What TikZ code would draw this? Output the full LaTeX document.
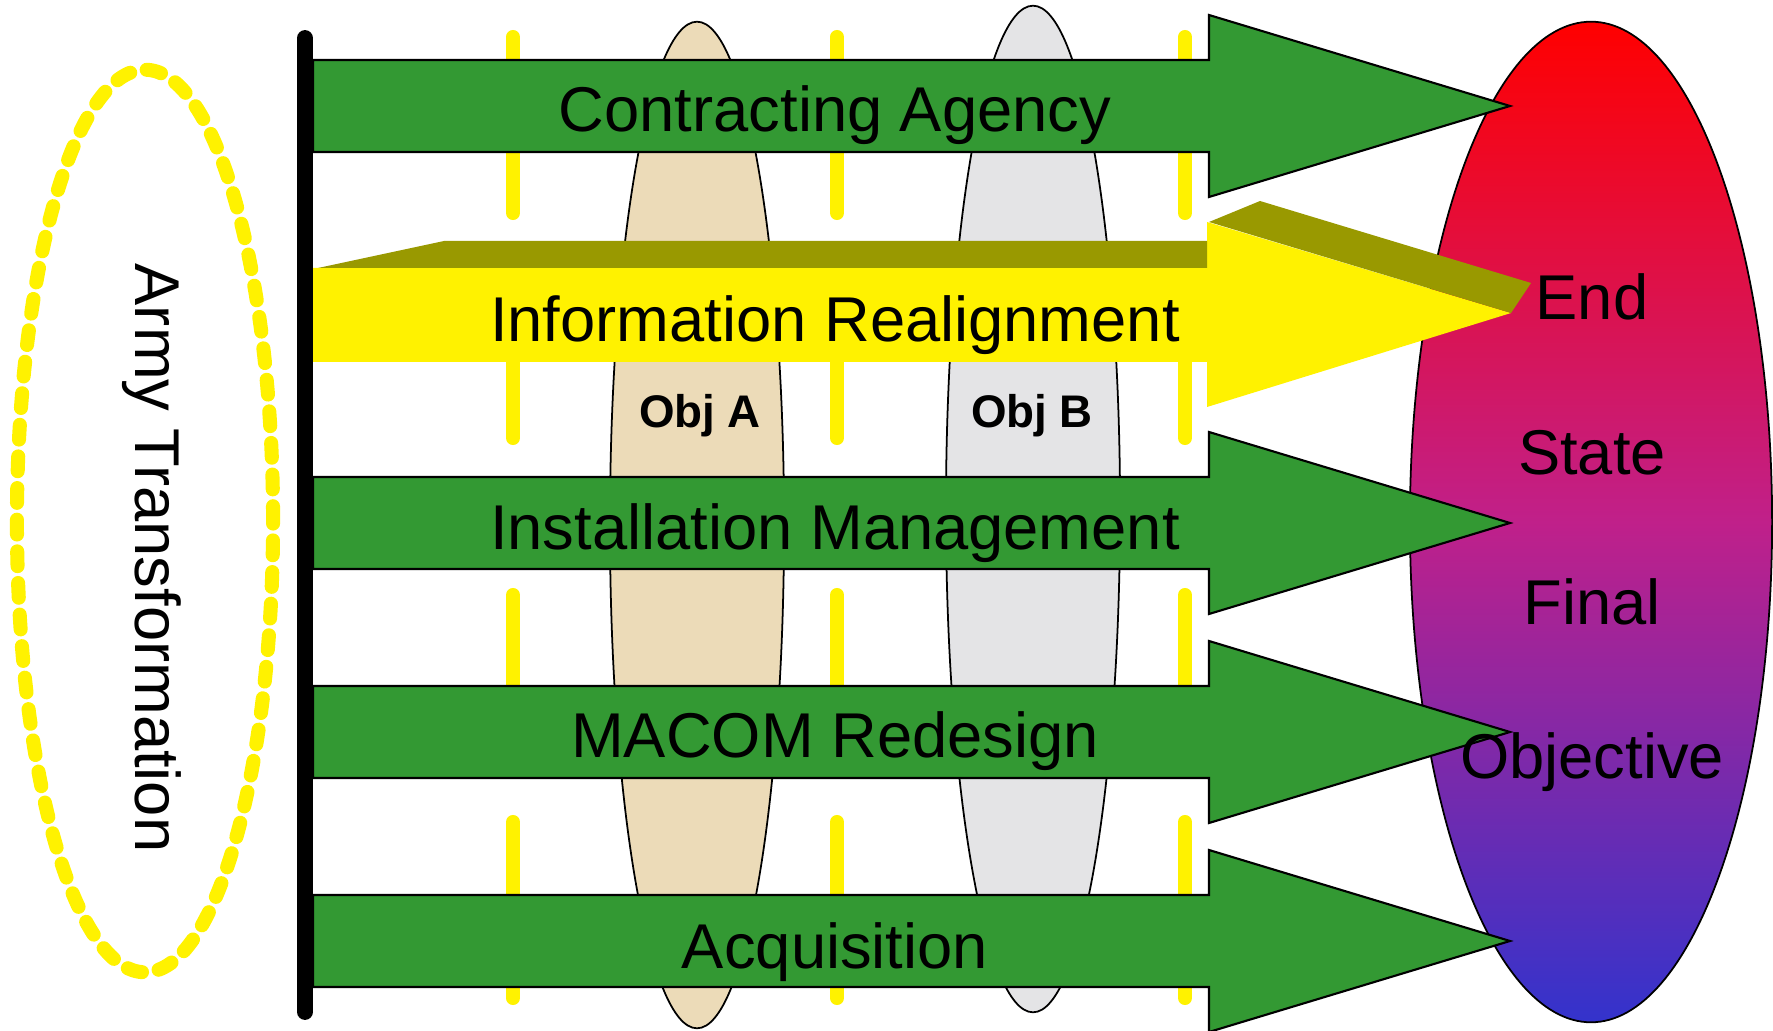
\documentclass[tikz,border=0pt]{standalone}
\usepackage{fontspec}
\setmainfont{Liberation Sans}
\usetikzlibrary{shapes.geometric}

\definecolor{armygreen}{RGB}{51,153,51}
\definecolor{olivetop}{RGB}{153,153,0}
\definecolor{objtan}{RGB}{236,219,184}
\definecolor{objgrey}{RGB}{228,228,230}
\definecolor{endred}{RGB}{255,0,0}
\definecolor{endmid}{RGB}{192,32,138}
\definecolor{endblue}{RGB}{51,51,204}

\tikzset{
  lens/.style={ellipse, draw=black, line width=0.5pt, inner sep=0pt,
    minimum width=1.74cm, minimum height=10.06cm},
  band/.style={draw=black, line width=0.6pt, fill=armygreen},
  guide/.style={yellow, line width=4pt, line cap=round},
  armyring/.style={yellow, line width=4pt, line cap=round,
    dash pattern=on 4.2pt off 4.8pt},
  bandtext/.style={anchor=base, inner sep=0pt, font=\fontsize{18}{20}\selectfont},
  objtext/.style={anchor=base, inner sep=0pt, font=\fontsize{13}{15}\selectfont\bfseries}
}

\begin{document}
\begin{tikzpicture}[x=0.01cm, y=-0.01cm]
\useasboundingbox (0,0) rectangle (1773,1031);

\node[lens, fill=objtan] (obja) at (697,525) {};
\node[lens, fill=objgrey] (objb) at (1033,509) {};
\node[ellipse, draw=black, line width=0.5pt, inner sep=0pt, minimum width=3.62cm,
  minimum height=10cm, top color=endred, bottom color=endblue, middle color=endmid]
  (endstate) at (1591,522) {};

\foreach \x in {513,837,1185}
  \foreach \a/\b in {37/213, 257/438, 595/770, 822/998}
    \draw[guide] (\x,\a) -- (\x,\b);

\draw[armyring] (145,521) ellipse (1.28cm and 4.51cm);
\node[rotate=-90, inner sep=0pt, font=\fontsize{18}{20}\selectfont] (army) at (152,558) {Army Transformation};

\fill[yellow] (313,268) -- (1207,268) -- (1207,222) -- (1511,313) -- (1207,407)
  -- (1207,362) -- (313,362) -- cycle;
\fill[olivetop] (318,268) -- (444,241) -- (1207,241) -- (1207,268) -- cycle;
\fill[olivetop] (1209,222) -- (1260,201) -- (1531,283) -- (1511,313) -- cycle;
\node[bandtext] (inforealign) at (835,342) {Information Realignment};

\foreach \y/\name/\base/\txt in {
	106/contract/132/Contracting Agency,
	523/install/550/Installation Management,
	732/macom/757/MACOM Redesign,
	941/acquis/968/Acquisition}
{
\draw[band] (313,\y-46) -- (1209,\y-46) -- (1209,\y-91) -- (1510,\y)
  -- (1209,\y+91) -- (1209,\y+46) -- (313,\y+46) -- cycle;
\node[bandtext] (\name) at (835,\base) {\txt};
}

\node[objtext] (objalabel) at (700,428) {Obj A};
\node[objtext] (objblabel) at (1032,428) {Obj B};

\foreach \y/\name/\txt in {
	320/endword/End,
	475/stateword/State,
	625/finalword/Final,
	778/objword/Objective}
\node[bandtext] (\name) at (1592,\y) {\txt};

\draw[line width=4.5pt, line cap=round] (305,38) -- (305,1012);

\end{tikzpicture}
\end{document}
